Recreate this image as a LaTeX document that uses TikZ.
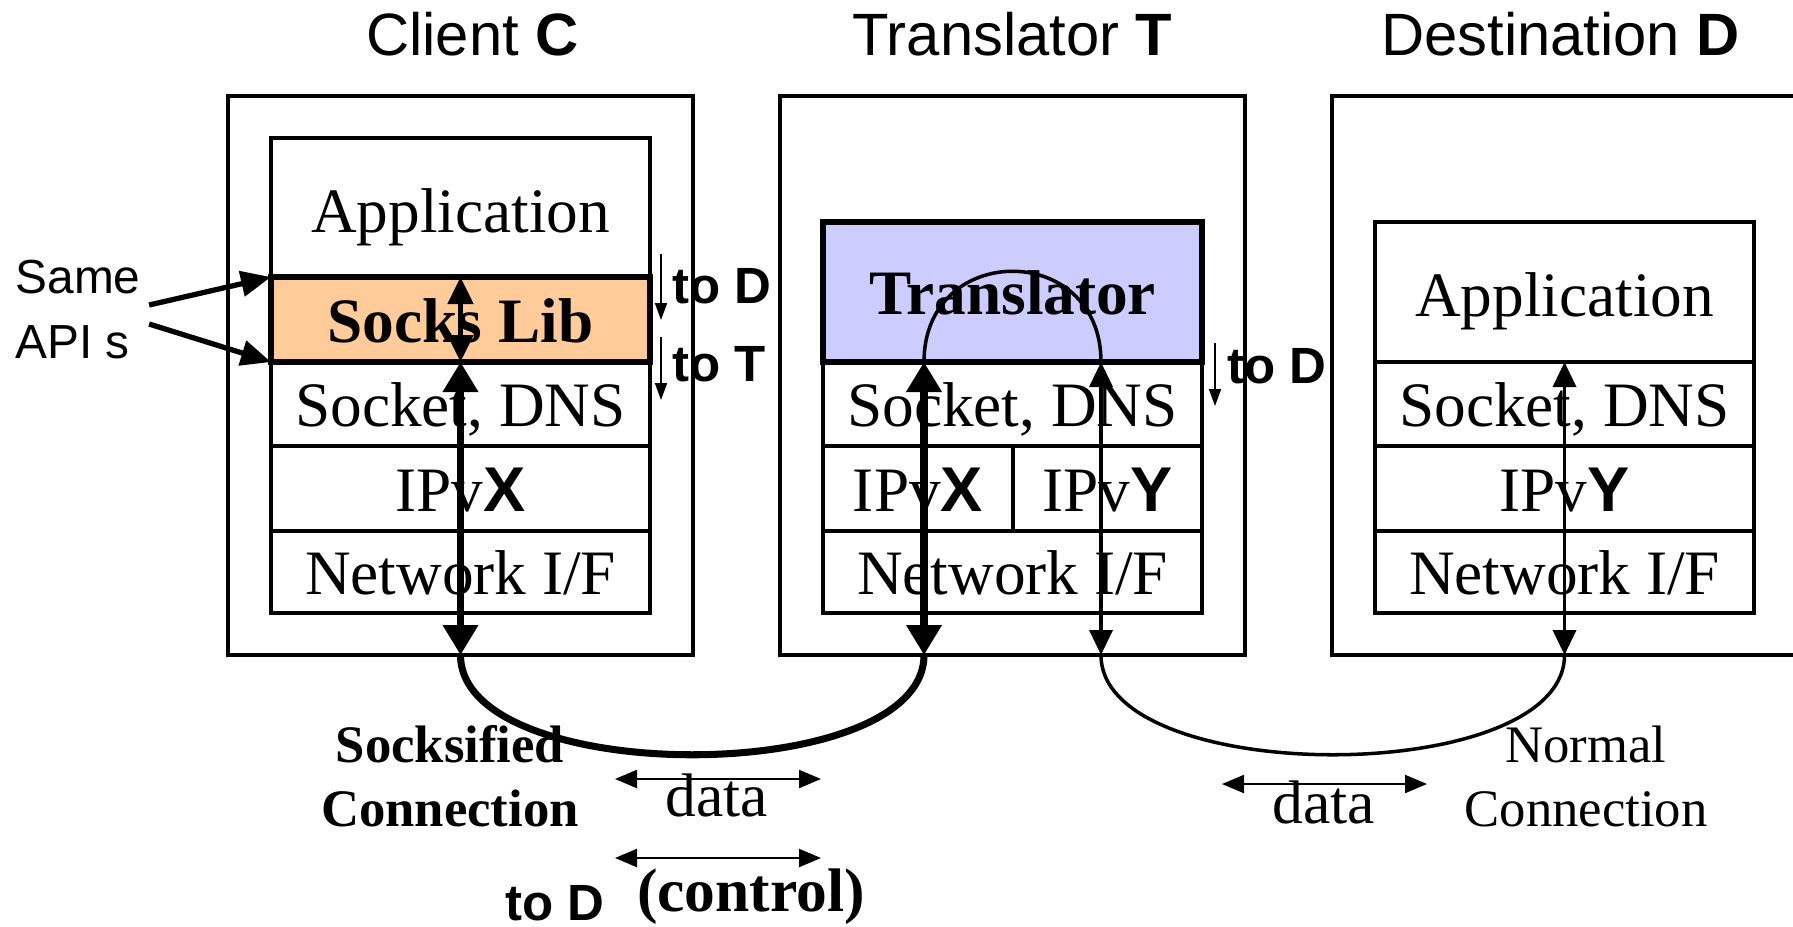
\documentclass[tikz,border=0pt]{standalone}
\usepackage{fontspec}
\setmainfont{Liberation Serif}
\setsansfont{Liberation Sans}
\usetikzlibrary{positioning, arrows.meta, calc}
\definecolor{socksorange}{RGB}{255, 204, 153}
\definecolor{translilac} {RGB}{204, 204, 255}
\newcommand{\hostid}[1]{{\sffamily\bfseries #1}}
\tikzset{
  % Host frame
  host/.style={
    draw, line width=1.2pt, inner sep=0pt, outer sep=0pt,
    minimum width=4.65cm, minimum height=5.59cm
  },
  % Protocol layer box
  layer/.style={
    draw, line width=1.2pt, inner sep=0pt, outer sep=0pt,
    minimum width=3.79cm, text height=0.59cm, text depth=0.14cm,
    font=\fontsize{18}{21}\selectfont
  },
  shim/.style={layer, line width=1.8pt, font=\fontsize{18}{21}\selectfont\bfseries},
  title/.style={inner sep=0pt, font=\sffamily\fontsize{17}{20}\selectfont},
  note/.style={inner sep=0pt, font=\sffamily\bfseries\fontsize{14.5}{17}\selectfont},
  caption/.style={inner sep=0pt, align=center, font=\fontsize{15}{18.2}\selectfont},
  lbl/.style={inner sep=0pt, font=\fontsize{17.5}{20}\selectfont},
  % Arrow styles
  bus/.style={{Triangle[length=0.30cm, width=0.34cm]}-{Triangle[length=0.30cm, width=0.34cm]}, line width=2pt},
  shimarr/.style={{Triangle[length=0.27cm, width=0.25cm]}-{Triangle[length=0.27cm, width=0.25cm]}, line width=1.4pt},
  wire/.style={{Triangle[length=0.25cm, width=0.23cm]}-{Triangle[length=0.25cm, width=0.23cm]}, line width=1pt},
  flow/.style={{Triangle[length=0.22cm, width=0.18cm]}-{Triangle[length=0.22cm, width=0.18cm]}, line width=0.6pt},
  hint/.style={-{Triangle[length=0.17cm, width=0.12cm]}, line width=0.5pt},
  apiarr/.style={-{Triangle[length=0.30cm, width=0.25cm]}, line width=1.5pt},
}

\begin{document}
\begin{tikzpicture}[node distance=0.87cm]
  \useasboundingbox (0,0) rectangle (17.93,-9.26);

  \node[host] (cHost) at (4.605,-3.755) {};
  \node[host, right=of cHost] (tHost) {};
  \node[host, right=of tHost] (dHost) {};
  \node[title, above=0.39cm of cHost, xshift=0.12cm] (cTitle) {Client \hostid{C}};
  \node[title, above=0.39cm of tHost] (tTitle) {Translator \hostid{T}};
  \node[title, above=0.39cm of dHost, xshift=-0.04cm] (dTitle) {Destination \hostid{D}};

  % client stack
  \node[layer, minimum height=0.82cm, above=0.42cm of cHost.south] (cNet) {Network I/F};
  \node[layer, minimum height=0.85cm, above=0pt of cNet] (cIP) {IPv\hostid{X}};
  \node[layer, minimum height=0.84cm, above=0pt of cIP] (cSock) {Socket, DNS};
  \node[shim, fill=socksorange, minimum height=0.85cm, above=0pt of cSock] (cSocks) {Socks Lib};
  \node[layer, minimum height=1.39cm, text height=0.63cm, above=0pt of cSocks] (cApp) {Application};

  % translator stack
  \node[layer, minimum height=0.82cm, above=0.42cm of tHost.south] (tNet) {Network I/F};
  \node[layer, minimum width=1.90cm, minimum height=0.85cm,
        above right=0pt and 0pt of tNet.north west] (tIPx) {IPv\hostid{X}};
  \node[layer, minimum width=1.89cm, minimum height=0.85cm, right=0pt of tIPx] (tIPy) {IPv\hostid{Y}};
  \node[layer, minimum height=0.84cm, above right=0pt and 0pt of tIPx.north west] (tSock) {Socket, DNS};
  \node[shim, fill=translilac, minimum height=1.40cm, above=0pt of tSock] (tCore) {Translator};

  % destination stack
  \node[layer, minimum height=0.82cm, above=0.42cm of dHost.south] (dNet) {Network I/F};
  \node[layer, minimum height=0.85cm, above=0pt of dNet] (dIP) {IPv\hostid{Y}};
  \node[layer, minimum height=0.84cm, above=0pt of dIP] (dSock) {Socket, DNS};
  \node[layer, minimum height=1.40cm, text height=0.63cm, above=0pt of dSock] (dApp) {Application};

  \coordinate (tPortX) at ([xshift=1.01cm]tSock.north west);
  \coordinate (tPortY) at ([xshift=-1.01cm]tSock.north east);
  \coordinate (tLowX) at (tPortX |- tHost.south);
  \coordinate (tLowY) at (tPortY |- tHost.south);

  \draw[shimarr] (cSocks.north) -- (cSocks.south);
  \draw[bus] (cSocks.south) -- (cHost.south);
  \draw[bus] (tPortX) -- (tLowX);
  \draw[wire] (tPortY) -- (tLowY);
  \draw[wire] (dSock.north) -- (dHost.south);
  \draw[line width=1pt] (tPortX) .. controls +(0,1.21) and +(0,1.21) .. (tPortY);
  \draw[line width=2pt] (cHost.south) .. controls +(0,-1.33) and +(0,-1.33) .. (tLowX);
  \draw[line width=1pt] (tLowY) .. controls +(0,-1.33) and +(0,-1.33) .. (dHost.south);

  % API arrows
  \node[inner sep=0pt, align=left, font=\sffamily\fontsize{13.6}{18.5}\selectfont]
    (api) at (0.78,-3.10) {Same\\API s};
  \draw[apiarr] ([shift={(0.08,0.05)}]api.east) -- (cApp.south west);
  \draw[apiarr] ([shift={(0.08,-0.14)}]api.east) -- (cSocks.south west);

  % side notes
  \node[note, anchor=west] (cToD) at ($(cSocks.north east)+(0.22,-0.09)$) {to D};
  \node[note, anchor=west] (cToT) at ($(cSocks.south east)+(0.22,-0.02)$) {to T};
  \node[note, anchor=west] (tToD) at ($(tSock.north east)+(0.25,-0.04)$) {to D};
  \draw[hint] ([shift={(-0.11,0.32)}]cToD.west) -- ([shift={(-0.11,-0.34)}]cToD.west);
  \draw[hint] ([shift={(-0.11,0.27)}]cToT.west) -- ([shift={(-0.11,-0.36)}]cToT.west);
  \draw[hint] ([shift={(-0.12,0.23)}]tToD.west) -- ([shift={(-0.12,-0.40)}]tToD.west);

  % bottom labels
  \node[caption, font=\fontsize{15}{18.2}\selectfont\bfseries] (sockCap) at (4.50,-7.76) {Socksified\\Connection};
  \node[caption] (normCap) at (15.86,-7.765) {Normal\\Connection};
  \coordinate (dataLa) at (6.15,-7.79);
  \coordinate (dataLb) at (8.21,-7.79);
  \coordinate (ctrlA) at (6.15,-8.58);
  \coordinate (ctrlB) at (8.21,-8.58);
  \coordinate (dataRa) at (12.22,-7.84);
  \coordinate (dataRb) at (14.27,-7.84);
  \draw[flow] (dataLa) -- (dataLb);
  \draw[flow] (ctrlA) -- (ctrlB);
  \draw[flow] (dataRa) -- (dataRb);
  \node[lbl] (dataL) at (7.17,-7.95) {data};
  \node[lbl] (dataR) at (13.24,-8.02) {data};
  \node[lbl, font=\fontsize{17.5}{20}\selectfont\bfseries] (ctrl) at (7.51,-8.97) {(control)};
  \node[note] (bToD) at (5.55,-9.03) {to D};
\end{tikzpicture}
\end{document}
